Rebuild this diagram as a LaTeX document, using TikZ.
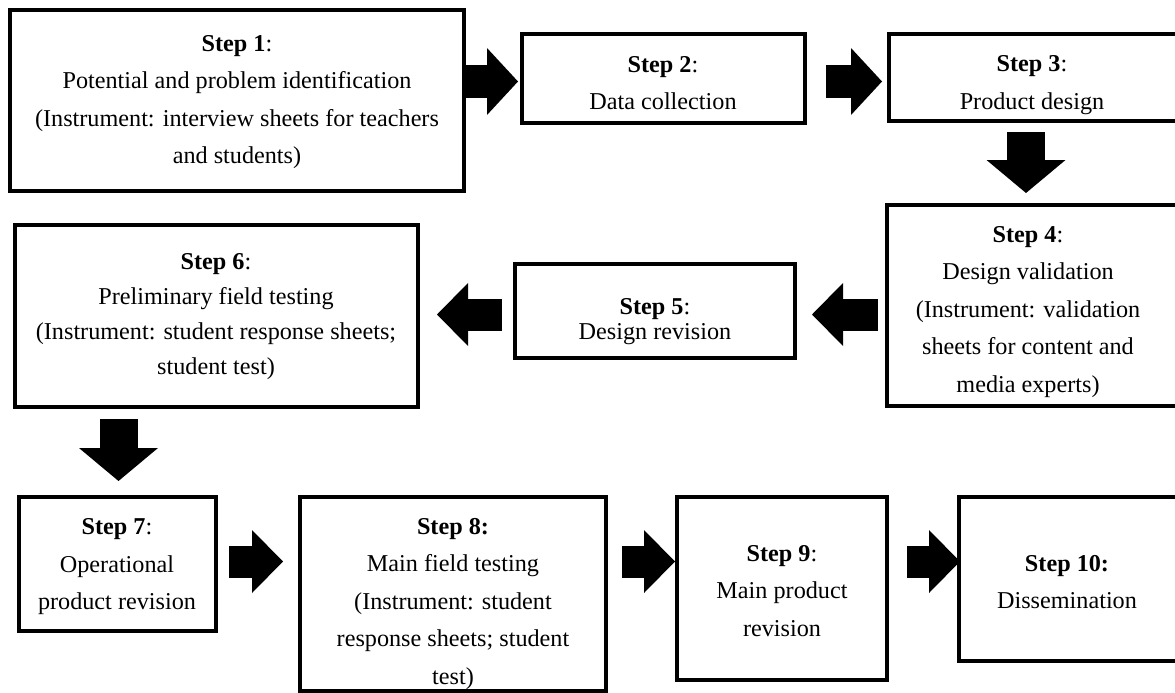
\documentclass[tikz,border=0pt]{standalone}
\usepackage{fontspec}
\setmainfont{Liberation Serif}
\usetikzlibrary{arrows.meta,calc}
\begin{document}
\begin{tikzpicture}[x=1pt,y=-1pt,
  box/.style={draw=black,line width=4pt,inner sep=0pt,outer sep=0pt},
  txt/.style={align=center,inner sep=0pt,outer sep=0pt,font=\fontsize{24.2}{37.5}\selectfont},
  harrow/.style={line width=32pt,-{Triangle[length=31pt,width=63pt,line width=0pt]}},
  harrowtop/.style={line width=32pt,-{Triangle[length=31pt,width=67pt,line width=0pt]}},
  varrow/.style={line width=38pt,-{Triangle[length=33pt,width=79pt,line width=0pt]}}]
\clip (0,0) rectangle (1175,693);
\fill[white] (0,0) rectangle (1175,693);
% boxes
\node[box,minimum width=454pt,minimum height=181pt] (b1) at (237,100.5) {};
\node[box,minimum width=283pt,minimum height=89pt] (b2) at (663.5,78.5) {};
\node[box,minimum width=294pt,minimum height=87pt] (b3) at (1036,77.5) {};
\node[box,minimum width=296pt,minimum height=201pt] (b4) at (1035,305.5) {};
\node[box,minimum width=280pt,minimum height=94pt] (b5) at (655,311) {};
\node[box,minimum width=403pt,minimum height=182pt] (b6) at (216.5,316) {};
\node[box,minimum width=197pt,minimum height=134pt] (b7) at (117.5,564) {};
\node[box,minimum width=306pt,minimum height=194pt] (b8) at (453,594) {};
\node[box,minimum width=210pt,minimum height=183pt] (b9) at (782,588.5) {};
\node[box,minimum width=224pt,minimum height=164pt] (b10) at (1071,579) {};
% texts
\node[txt] (t1) at (237,102) {\textbf{Step 1}:\\Potential and problem identification\\(Instrument: interview sheets for teachers\\and students)};
\node[txt] (t2) at (663,83) {\textbf{Step 2}:\\Data collection};
\node[txt] (t3) at (1032,85) {\textbf{Step 3}:\\Product design};
\node[txt] (t4) at (1028,312) {\textbf{Step 4}:\\Design validation\\(Instrument: validation\\sheets for content and\\media experts)};
\node[txt,font=\fontsize{24.2}{25}\selectfont] (t5) at (655,322) {\textbf{Step 5}:\\Design revision};
\node[txt,font=\fontsize{24.2}{35}\selectfont] (t6) at (216,317) {\textbf{Step 6}:\\Preliminary field testing\\(Instrument: student response sheets;\\student test)};
\node[txt] (t7) at (117,567) {\textbf{Step 7}:\\Operational\\product revision};
\node[txt] (t8) at (453,604) {\textbf{Step 8:}\\Main field testing\\(Instrument: student\\response sheets; student\\test)};
\node[txt] (t9) at (782,591) {\textbf{Step 9}:\\Main product\\revision};
\node[txt] (t10) at (1067,582) {\textbf{Step 10:}\\Dissemination};
% block arrows
\draw[harrowtop] (b1.east |- 0,81.5) -- ($(b2.west |- 0,81.5)+(-4,0)$);
\draw[harrowtop] ($(b2.east |- 0,81.5)+(21,0)$) -- ($(b3.west |- 0,81.5)+(-7,0)$);
\draw[varrow] ($(b3.south -| 1026,0)+(0,11)$) -- ($(b4.north -| 1026,0)+(0,-12)$);
\draw[harrow] ($(b4.west |- 0,314.5)+(-9,0)$) -- ($(b5.east |- 0,314.5)+(17,0)$);
\draw[harrow] ($(b5.west |- 0,314.5)+(-13,0)$) -- ($(b6.east |- 0,314.5)+(19,0)$);
\draw[varrow] ($(b6.south -| 118.5,0)+(0,12)$) -- ($(b7.north -| 118.5,0)+(0,-16)$);
\draw[harrow] ($(b7.east |- 0,561.5)+(13,0)$) -- ($(b8.west |- 0,561.5)+(-17,0)$);
\draw[harrow] ($(b8.east |- 0,561.5)+(16,0)$) -- ($(b9.west |- 0,561.5)+(-2,0)$);
\draw[harrow] ($(b9.east |- 0,561.5)+(20,0)$) -- ($(b10.west |- 0,561.5)+(1,0)$);
\end{tikzpicture}
\end{document}
